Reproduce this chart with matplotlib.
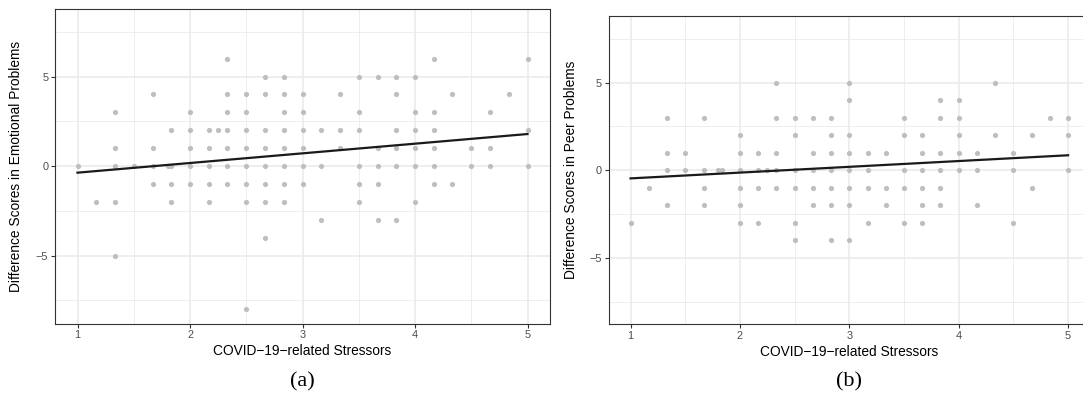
import numpy as np
import matplotlib
matplotlib.use("Agg")
import matplotlib.pyplot as plt
from matplotlib.ticker import MultipleLocator

plt.rcParams['font.family'] = ['Liberation Sans', 'DejaVu Sans']

# panel (a): stressor score, one row per x column -> difference scores
stress_a = [1.0, 1.167, 1.333, 1.5, 1.667, 1.8, 1.833, 2.0, 2.167, 2.25, 2.333, 2.5,
            2.667, 2.833, 3.0, 3.167, 3.333, 3.5, 3.667, 3.833, 4.0, 4.167, 4.333,
            4.5, 4.667, 4.833, 5.0]
emo_a = [[0], [-2], [3, 1, 0, -2, -5], [0], [4, 1, 0, -1], [0], [2, 0, -1, -2],
         [3, 2, 1, 0, -1], [2, 1, 0, -1, -2], [2], [6, 4, 3, 2, 1, 0, -1],
         [4, 3, 2, 1, 0, -1, -2, -8], [5, 4, 2, 1, 0, -1, -2, -4],
         [5, 4, 3, 2, 1, 0, -1, -2], [4, 3, 2, 1, 0, -1], [2, 0, -3], [4, 2, 1],
         [5, 3, 2, 0, -1, -2], [5, 1, 0, -1, -3], [5, 4, 2, 1, 0, -3],
         [5, 3, 2, 1, 0, -2], [6, 3, 2, 1, 0, -1], [4, -1], [1, 0], [3, 1, 0],
         [4], [6, 2, 0]]

# panel (b)
stress_b = stress_a
peer_b = [[-3], [-1], [3, 1, 0, -2], [1, 0], [3, 0, -1, -2], [0], [0],
          [2, 1, 0, -1, -2, -3], [1, 0, -1, -3], [0], [5, 3, 1, 0, -1],
          [3, 2, 0, -1, -3, -4], [3, 1, 0, -1, -2], [3, 2, 1, 0, -1, -2, -4],
          [5, 4, 2, 1, 0, -1, -2, -4], [1, 0, -1, -3], [1, -1, -2],
          [3, 2, 0, -1, -3], [2, 1, 0, -1, -2, -3], [4, 3, 1, 0, -1, -2],
          [4, 3, 2, 1, 0], [1, 0, -2], [5, 2], [1, 0, -3], [2, -1], [3],
          [3, 2, 0]]

# fitted lines (intercept, slope)
fit_a = (-0.91, 0.54)
fit_b = (-0.80, 0.33)

ylabels = ['Difference Scores in Emotional Problems',
           'Difference Scores in Peer Problems']
xlabel = 'COVID\u221219\u2212related Stressors'
captions = ['(a)', '(b)']

W, H = 1083, 398
fig = plt.figure(figsize=(W / 100, H / 100), dpi=100)

boxes = [(55, 8.6, 550, 323.5), (608.7, 16, 1090, 324.3)]
label_x = [16.5, 571]
panels = [(stress_a, emo_a, fit_a), (stress_b, peer_b, fit_b)]

for i, ((xs, ys, fit), (l, t, r, b)) in enumerate(zip(panels, boxes)):
    ax = fig.add_axes([l / W, 1 - b / H, (r - l) / W, (b - t) / H])
    px = np.concatenate([[x] * len(v) for x, v in zip(xs, ys)])
    py = np.concatenate([v for v in ys])
    ax.scatter(px, py, s=14, color='#BEBEBE', linewidths=0, zorder=2)
    lx = np.array([min(xs), max(xs)])
    ax.plot(lx, fit[0] + fit[1] * lx, color='#1A1A1A', lw=1.6, zorder=3)

    ax.set_xlim(0.8, 5.2)
    ax.set_ylim(-8.8, 8.8)
    ax.xaxis.set_major_locator(MultipleLocator(1))
    ax.xaxis.set_minor_locator(MultipleLocator(0.5))
    ax.yaxis.set_major_locator(MultipleLocator(5))
    ax.yaxis.set_minor_locator(MultipleLocator(2.5))
    ax.grid(which='major', color='#EBEBEB', lw=1.2, zorder=0)
    ax.grid(which='minor', color='#EBEBEB', lw=0.6, zorder=0)
    ax.set_axisbelow(True)
    ax.tick_params(which='minor', length=0)
    ax.tick_params(which='major', length=2.8, width=0.8, color='#333333',
                   labelcolor='#4D4D4D', labelsize=7.9, pad=2)
    for sp in ax.spines.values():
        sp.set_color('#333333')
        sp.set_linewidth(0.8)

    ax.set_xlabel(xlabel, fontsize=9.9, color='black', labelpad=3)
    fig.text(label_x[i] / W, 1 - ((t + b) / 2) / H, ylabels[i], rotation=90,
             fontsize=9.9, ha='center', va='center')
    fig.text(((l + r) / 2) / W, 1 - 382 / H, captions[i], fontsize=16,
             family=['Liberation Serif', 'DejaVu Serif'], ha='center', va='center')

fig.savefig('out.png', dpi=100)
